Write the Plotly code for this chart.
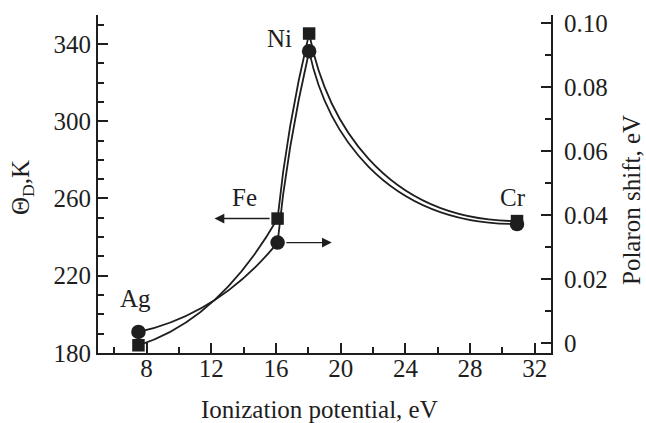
import plotly.graph_objects as go

# ---- data ----
metals = ["Ag", "Fe", "Ni", "Cr"]
ionization = [7.5, 16.1, 18.05, 30.9]          # eV
theta_d = [184, 249.6, 345.4, 248.3]           # K (left axis, squares)
polaron = [0.0035, 0.0314, 0.0912, 0.0372]     # eV (right axis, circles)

x_ticks = [8, 12, 16, 20, 24, 28, 32]
y_ticks = [180, 220, 260, 300, 340]
y2_ticks = [0, 0.02, 0.04, 0.06, 0.08, 0.10]
y2_ticktext = ["0", "0.02", "0.04", "0.06", "0.08", "0.10"]

INK = "#1e1e1e"
FONT = "Liberation Serif"
FS = 25

fig = go.Figure()


def guide_path(xs, ys):
    """Smooth guide curve through the four points (Bezier control points from the data)."""
    (x0, x1, x2, x3), (y0, y1, y2, y3) = xs, ys
    # Ag -> Fe : concave-up quadratic
    c1 = (x0 + 0.58 * (x1 - x0), y0 + 0.2 * (y1 - y0))
    # Fe -> Ni : nearly straight steep rise
    c2 = (x1 + 0.3 * (x2 - x1), y1 + 0.5 * (y2 - y1))
    # Ni -> Cr : decaying branch
    dx, dy = x3 - x2, y3 - y2
    c3 = (x2 + 0.08 * dx, y2 + 0.45 * dy)
    c4 = (x2 + 0.35 * dx, y3)
    return (f"M {x0},{y0} Q {c1[0]},{c1[1]} {x1},{y1} "
            f"Q {c2[0]},{c2[1]} {x2},{y2} "
            f"C {c3[0]},{c3[1]} {c4[0]},{c4[1]} {x3},{y3}")


fig.add_shape(type="path", xref="x", yref="y", layer="below",
              path=guide_path(ionization, theta_d), line=dict(color=INK, width=1.8))
fig.add_shape(type="path", xref="x", yref="y2", layer="below",
              path=guide_path(ionization, polaron), line=dict(color=INK, width=1.8))

# markers
fig.add_trace(go.Scatter(x=ionization, y=theta_d, mode="markers",
                         marker=dict(symbol="square", size=12.5, color=INK),
                         showlegend=False, name="Θ_D"))
fig.add_trace(go.Scatter(x=ionization, y=polaron, mode="markers", yaxis="y2",
                         marker=dict(symbol="circle", size=14.5, color=INK),
                         showlegend=False, name="Polaron shift"))

# element labels (offset in pixels from each square)
label_shift = {"Ag": (-3, 47), "Fe": (-33, 21), "Ni": (-30, -5), "Cr": (-4, 24)}
for name, xv, yv in zip(metals, ionization, theta_d):
    sx, sy = label_shift[name]
    fig.add_annotation(x=xv, y=yv, xref="x", yref="y", text=name, showarrow=False,
                       xshift=sx, yshift=sy, font=dict(family=FONT, size=FS, color=INK))

# axis-indicator arrows at Fe
fig.add_annotation(x=12.2, y=theta_d[1], xref="x", yref="y",
                   ax=15.7, ay=theta_d[1], axref="x", ayref="y",
                   text="", showarrow=True, arrowhead=2, arrowsize=1.4,
                   arrowwidth=1.4, arrowcolor=INK, standoff=0, startstandoff=0)
fig.add_annotation(x=19.45, y=polaron[1], xref="x", yref="y2",
                   ax=16.55, ay=polaron[1], axref="x", ayref="y2",
                   text="", showarrow=True, arrowhead=2, arrowsize=1.4,
                   arrowwidth=1.4, arrowcolor=INK, standoff=0, startstandoff=0)

# axis titles
fig.add_annotation(xref="paper", yref="paper", x=0, y=0.5, xshift=-76, yshift=-4,
                   xanchor="center", yanchor="middle",
                   text="Θ<sub>D</sub>,K", textangle=-90, showarrow=False,
                   font=dict(family=FONT, size=FS, color=INK))
fig.add_annotation(xref="paper", yref="paper", x=1, y=0.5, xshift=80, yshift=-16,
                   xanchor="center", yanchor="middle",
                   text="Polaron shift, eV", textangle=-90, showarrow=False,
                   font=dict(family=FONT, size=FS, color=INK))
fig.add_annotation(xref="paper", yref="paper", x=0.5, y=0, xshift=-5, yshift=-56,
                   xanchor="center", yanchor="middle",
                   text="Ionization potential, eV", showarrow=False,
                   font=dict(family=FONT, size=FS, color=INK))

axis_common = dict(showline=True, linecolor=INK, linewidth=2, showgrid=False,
                   zeroline=False, ticks="inside", tickcolor=INK, tickwidth=1.5,
                   ticklen=10, tickfont=dict(family=FONT, size=FS, color=INK))

fig.update_layout(
    width=646, height=423,
    margin=dict(l=98, r=95, t=10, b=70),
    paper_bgcolor="white", plot_bgcolor="white",
    xaxis=dict(range=[5, 33], tickvals=x_ticks,
               minor=dict(dtick=2, tick0=0, ticks="inside", ticklen=6, tickcolor=INK, tickwidth=1.5),
               ticklabelstandoff=-8, **axis_common),
    yaxis=dict(range=[180, 355], tickvals=y_ticks,
               minor=dict(dtick=10, tick0=180, ticks="inside", ticklen=6, tickcolor=INK, tickwidth=1.5),
               ticklabelstandoff=0, **axis_common),
    yaxis2=dict(range=[-0.00308, 0.1025], tickvals=y2_ticks, ticktext=y2_ticktext,
                overlaying="y", side="right", anchor="x",
                minor=dict(dtick=0.01, tick0=0, ticks="inside", ticklen=6, tickcolor=INK, tickwidth=1.5),
                ticklabelstandoff=6, **axis_common),
)

fig.write_html("out.html", config={"displayModeBar": False},
               post_script="document.body.style.margin='0px';")
